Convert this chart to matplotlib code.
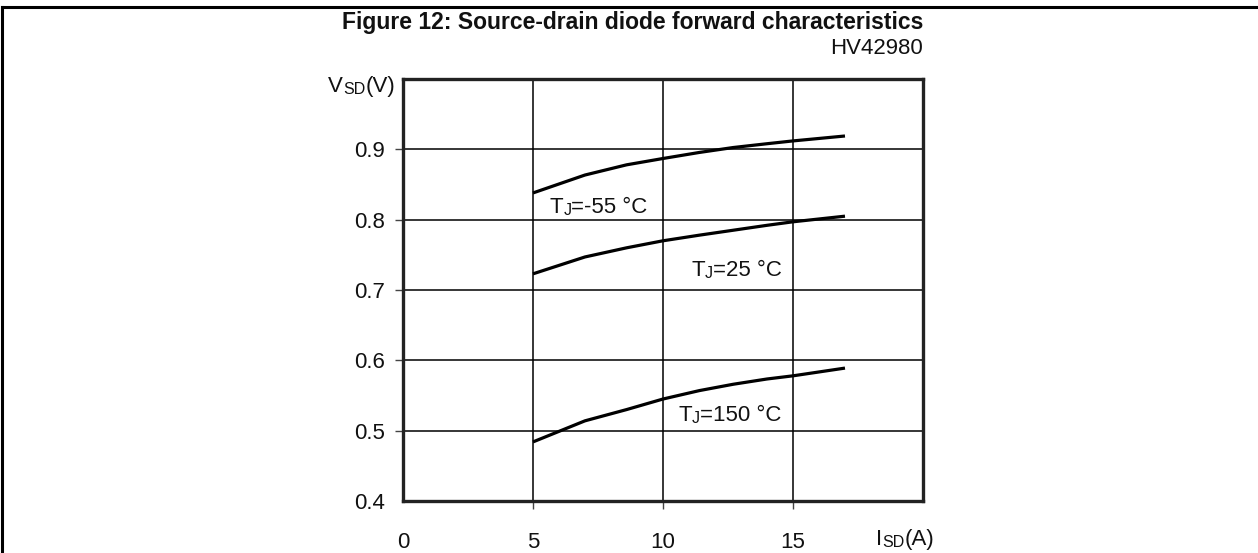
import matplotlib
matplotlib.use("Agg")
import matplotlib.pyplot as plt
from matplotlib.lines import Line2D
from matplotlib.transforms import blended_transform_factory

plt.rcParams['font.family'] = ['Liberation Sans', 'DejaVu Sans']

# source-drain current (A) and forward voltage (V)
i_sd = [5, 7, 8.6, 10, 11.4, 12.7, 14, 15, 17]
v_m55 = [0.838, 0.8635, 0.878, 0.887, 0.8956, 0.9026, 0.908, 0.912, 0.919]
v_25 = [0.723, 0.747, 0.760, 0.770, 0.778, 0.785, 0.792, 0.797, 0.805]
v_150 = [0.484, 0.514, 0.530, 0.545, 0.557, 0.566, 0.5735, 0.578, 0.589]

x_ticks = [0, 5, 10, 15, 20]
x_labels = ['0', '5', '10', '15', '']
y_ticks = [0.4, 0.5, 0.6, 0.7, 0.8, 0.9]
y_labels = ['0.4', '0.5', '0.6', '0.7', '0.8', '0.9']

FS = 16
SUB = 11.5


def chain_text(ax, x, y, parts, transform, ha='left'):
    # draws "T" + small "J" + "=..." etc. one piece after the other
    if ha == 'left':
        size = parts[0][1]
        prev = ax.text(x, y, parts[0][0], transform=transform, fontsize=size,
                       ha='left', va='center', color='#111111')
        for txt, size in parts[1:]:
            prev = ax.annotate(txt, xy=(1, 0), xycoords=prev, fontsize=size,
                               ha='left', va='bottom', color='#111111',
                               annotation_clip=False)
    else:
        parts = parts[::-1]
        size = parts[0][1]
        prev = ax.text(x, y, parts[0][0], transform=transform, fontsize=size,
                       ha='right', va='center', color='#111111')
        for txt, size in parts[1:]:
            prev = ax.annotate(txt, xy=(0, 0), xycoords=prev, fontsize=size,
                               ha='right', va='bottom', color='#111111',
                               annotation_clip=False)


fig = plt.figure(figsize=(12.58, 5.53), dpi=100)
ax = fig.add_axes([0.3203, 0.0940, 0.4134, 0.7631])

for v in (v_m55, v_25, v_150):
    ax.plot(i_sd, v, color='black', lw=2.3, solid_capstyle='butt')

ax.set_xlim(0, 20)
ax.set_ylim(0.4, 1.0)
ax.set_xticks(x_ticks, x_labels)
ax.set_yticks(y_ticks, y_labels)
ax.grid(True, color='black', lw=1.1)
ax.set_axisbelow(True)
for s in ax.spines.values():
    s.set_linewidth(2.4)
    s.set_color('#222222')
ax.tick_params(direction='out', length=6, width=1.0, color='#444444',
               labelsize=FS, labelcolor='#111111')
ax.tick_params(axis='x', pad=16)
ax.tick_params(axis='y', pad=7)
ax.xaxis.get_major_ticks()[0].tick1line.set_visible(False)
ax.xaxis.get_major_ticks()[-1].tick1line.set_visible(False)
ax.yaxis.get_major_ticks()[0].tick1line.set_visible(False)

# curve labels
chain_text(ax, 5.65, 0.818, [('T', FS), ('J', SUB), ('=-55 °C', FS)], ax.transData)
chain_text(ax, 11.1, 0.728, [('T', FS), ('J', SUB), ('=25 °C', FS)], ax.transData)
chain_text(ax, 10.58, 0.521, [('T', FS), ('J', SUB), ('=150 °C', FS)], ax.transData)

# axis names
tr = blended_transform_factory(ax.transAxes, ax.transData)
chain_text(ax, -0.015, 0.99, [('V', FS), ('SD', SUB), ('(V)', FS)], tr, ha='right')
trx = blended_transform_factory(ax.transData, ax.transAxes)
chain_text(ax, 18.2, -0.092, [('I', FS), ('SD', SUB), ('(A)', FS)], trx)

fig.text(0.7337, 0.913, 'HV42980', fontsize=FS, ha='right', va='center',
         color='#111111')
fig.text(0.503, 0.960, 'Figure 12: Source-drain diode forward characteristics',
         fontsize=16.5, fontweight='bold', ha='center', va='center',
         color='#111111')

# page frame: rule on top and on the left
fig.add_artist(Line2D([0.0016, 1.0], [0.987, 0.987], color='black', lw=2.2))
fig.add_artist(Line2D([0.0016, 0.0016], [0.0, 0.987], color='black', lw=2.2))

fig.savefig('out.png', dpi=100)
